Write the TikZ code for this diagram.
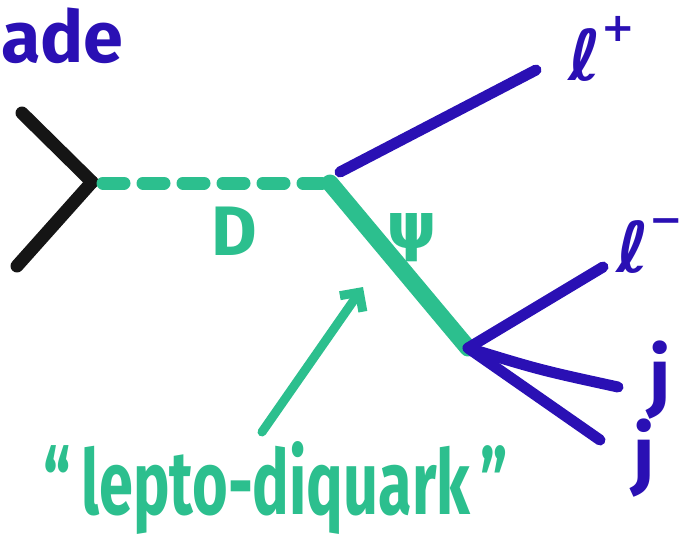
\documentclass[tikz,border=0pt]{standalone}
\usepackage{fontspec}
\setmainfont{Fira Sans}
\newfontfamily\dvs{DejaVu Sans}
\usetikzlibrary{arrows.meta}
\definecolor{pblue}{HTML}{2A10B4}
\definecolor{pgreen}{HTML}{2CBF8E}
\definecolor{pblack}{HTML}{151515}
\tikzset{
  fermion/.style={line width=11pt, line cap=round},
  blueline/.style={fermion, pblue},
  blackline/.style={line width=13pt, line cap=round, pblack},
  dline/.style={line width=13pt, line cap=round, pgreen, dash pattern=on 21pt off 19pt},
  psiline/.style={line width=17pt, line cap=round, pgreen},
  bluelab/.style={text=pblue, inner sep=0pt},
  greenlab/.style={text=pgreen, inner sep=0pt},
}
\newcommand{\supsym}[1]{\raisebox{0.55em}{\fontsize{40}{40}\selectfont #1}}
\begin{document}
\begin{tikzpicture}[x=1pt,y=-1pt]
\useasboundingbox (0,0) rectangle (692,544);
% vertices
\coordinate (v1) at (92,182);
\coordinate (v2) at (330,183);
\coordinate (v3) at (468,348);
% external ends
\coordinate (a1) at (22,113);
\coordinate (a2) at (17,266);
\coordinate (e1) at (536,70);
\coordinate (e2) at (603,267);
\coordinate (e3) at (618,387);
\coordinate (e4) at (600,440);
\coordinate (ds) at (103,183);
\coordinate (de) at (322,183);
\coordinate (e1s) at (340,172);
% lines
\draw[blackline] (a1) -- (v1);
\draw[blackline] (a2) -- (v1);
\draw[dline] (ds) -- (de);
\draw[blueline] (e1s) -- (e1);
\draw[psiline] (v2) -- (v3);
\draw[blueline] (v3) -- (e2);
\draw[blueline] (v3) .. controls (540,370) .. (e3);
\draw[blueline] (v3) -- (e4);
% labels
\node[bluelab, anchor=west] (ade) at (1,36) {\fontsize{72}{72}\selectfont\bfseries ade};
\node[bluelab, anchor=base west] (lp) at (568,80) {\fontsize{70}{70}\selectfont\dvs\bfseries ℓ\supsym{+}};
\node[bluelab, anchor=base west] (lm) at (616,272) {\fontsize{70}{70}\selectfont\dvs\bfseries ℓ\supsym{−}};
\node[bluelab] (j1) at (660,380) {\fontsize{76}{76}\selectfont\bfseries j};
\node[bluelab] (j2) at (644,458) {\fontsize{76}{76}\selectfont\bfseries j};
\node[greenlab] (D) at (234,231) {\fontsize{70}{70}\selectfont\bfseries D};
\node[greenlab] (psi) at (412,238) {\fontsize{64}{64}\selectfont\dvs\bfseries ψ};
\node[greenlab] (lq) at (276,488) {\scalebox{0.68}[1]{\fontsize{90}{90}\selectfont\bfseries “\,lepto-diquark\,”}};
\coordinate (ar0) at (262,432);
\coordinate (ar1) at (363,287);
\draw[pgreen, line width=9pt, line cap=round, -{Straight Barb[length=14pt,width=28pt]}] (ar0) -- (ar1);
\end{tikzpicture}
\end{document}
